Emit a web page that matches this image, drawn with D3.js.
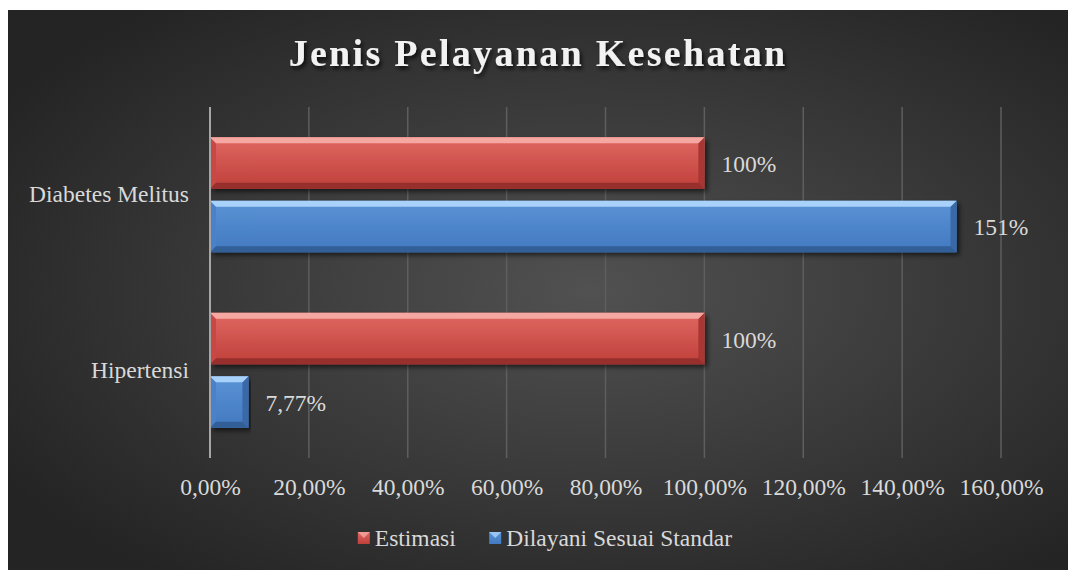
<!DOCTYPE html>
<html>
<head>
<meta charset="utf-8">
<script src="https://d3js.org/d3.v7.min.js"></script>
<style>
  body { margin: 0; background: #fff; }
  svg { display: block; font-family: "Liberation Serif", "Times New Roman", serif; }
</style>
</head>
<body>
<div id="chart"></div>
<script>
// data
const categories = ["Diabetes Melitus", "Hipertensi"];
const seriesNames = ["Estimasi", "Dilayani Sesuai Standar"];
const estimasi = [100, 100];
const dilayani = [151, 7.77];
const xTicks = [0, 20, 40, 60, 80, 100, 120, 140, 160];

const locale = d3.formatLocale({decimal: ",", thousands: ".", grouping: [3], currency: ["", ""]});
const tickFmt = v => locale.format(".2f")(v) + "%";
const labelFmt = v => (Number.isInteger(v) ? v : locale.format(".2f")(v)) + "%";

const W = 1068, H = 570;
const margin = {top: 107, right: 67, bottom: 112, left: 210};

const svg = d3.select("#chart").append("svg")
    .attr("width", W)
    .attr("height", H);

const defs = svg.append("defs");

// background
const bg = defs.append("radialGradient").attr("id", "bg")
    .attr("cx", "55%").attr("cy", "50%").attr("r", "65%");
bg.append("stop").attr("offset", "0%").attr("stop-color", "#515151");
bg.append("stop").attr("offset", "100%").attr("stop-color", "#242424");

svg.append("rect")
    .attr("x", 8).attr("y", 10)
    .attr("width", W - 8).attr("height", H - 10)
    .attr("fill", "url(#bg)");

// shadows
const tshadow = defs.append("filter").attr("id", "tshadow")
    .attr("x", "-10%").attr("y", "-30%").attr("width", "120%").attr("height", "160%");
tshadow.append("feDropShadow")
    .attr("dx", 2).attr("dy", 3).attr("stdDeviation", 2)
    .attr("flood-color", "#000").attr("flood-opacity", 0.75);

const bshadow = defs.append("filter").attr("id", "bshadow")
    .attr("x", "-5%").attr("y", "-20%").attr("width", "110%").attr("height", "150%");
bshadow.append("feDropShadow")
    .attr("dx", 3).attr("dy", 3).attr("stdDeviation", 2.5)
    .attr("flood-color", "#000").attr("flood-opacity", 0.6);

// bar palettes
const palette = {
  "Estimasi": {top: "#e06862", bottom: "#bf3f3a", hi: "#f5a7a2", lo: "#97302d", end: "#a83632", left: "#c94843"},
  "Dilayani Sesuai Standar": {top: "#5b93d6", bottom: "#4279c0", hi: "#a9d2fa", lo: "#335f99", end: "#3a69a8", left: "#4a81c8"}
};
seriesNames.forEach((s, i) => {
  const g = defs.append("linearGradient").attr("id", "body" + i)
      .attr("x1", 0).attr("y1", 0).attr("x2", 0).attr("y2", 1);
  g.append("stop").attr("offset", "0%").attr("stop-color", palette[s].top);
  g.append("stop").attr("offset", "100%").attr("stop-color", palette[s].bottom);
});

// title
svg.append("text")
    .attr("x", 538).attr("y", 66)
    .attr("text-anchor", "middle")
    .attr("font-size", 38)
    .attr("font-weight", "bold")
    .attr("letter-spacing", 2.3)
    .attr("fill", "#f2f2f2")
    .attr("filter", "url(#tshadow)")
    .text("Jenis Pelayanan Kesehatan");

// scales
const x = d3.scaleLinear()
    .domain([0, 160])
    .range([margin.left, W - margin.right]);

const y = d3.scaleBand()
    .domain(categories)
    .range([margin.top, H - margin.bottom])
    .paddingInner(0.345)
    .paddingOuter(0.172);

const ySub = d3.scaleBand()
    .domain(seriesNames)
    .range([0, y.bandwidth()])
    .paddingInner(0.19);

// gridlines
svg.append("g")
    .selectAll("line")
    .data(xTicks.slice(1))
    .join("line")
    .attr("x1", d => x(d)).attr("x2", d => x(d))
    .attr("y1", margin.top).attr("y2", H - margin.bottom)
    .attr("stroke", "#5e5e5e")
    .attr("stroke-width", 1.5);

// x axis labels
const xAxis = d3.axisBottom(x)
    .tickValues(xTicks)
    .tickFormat(tickFmt)
    .tickSize(0)
    .tickPadding(0);

const xAxisG = svg.append("g")
    .attr("transform", `translate(0,${H - margin.bottom})`)
    .call(xAxis);
xAxisG.select(".domain").remove();
xAxisG.selectAll("text")
    .attr("y", 37)
    .attr("dy", 0)
    .attr("font-size", 23.5)
    .attr("font-family", "Liberation Serif, Times New Roman, serif")
    .attr("fill", "#d9d9d9");

// y axis labels
const yAxis = d3.axisLeft(y).tickSize(0).tickPadding(21);
const yAxisG = svg.append("g")
    .attr("transform", `translate(${margin.left},0)`)
    .call(yAxis);
yAxisG.select(".domain").remove();
yAxisG.selectAll("text")
    .attr("dy", "0.32em")
    .attr("font-size", 23.5)
    .attr("font-family", "Liberation Serif, Times New Roman, serif")
    .attr("fill", "#d9d9d9");

// bars
const rows = [];
categories.forEach((c, i) => {
  rows.push({cat: c, series: seriesNames[0], si: 0, value: estimasi[i]});
  rows.push({cat: c, series: seriesNames[1], si: 1, value: dilayani[i]});
});

const b = 6;
const barG = svg.append("g").selectAll("g")
    .data(rows)
    .join("g")
    .attr("transform", d => `translate(0,${y(d.cat) + ySub(d.series)})`);

barG.each(function(d) {
  const g = d3.select(this);
  const x0 = x(0), x1 = x(d.value), h = ySub.bandwidth();
  const p = palette[d.series];
  g.append("rect")
      .attr("x", x0).attr("y", 0)
      .attr("width", x1 - x0).attr("height", h)
      .attr("fill", `url(#body${d.si})`)
      .attr("filter", "url(#bshadow)");
  const poly = pts => pts.map(q => q.join(",")).join(" ");
  g.append("polygon").attr("fill", p.left)
      .attr("points", poly([[x0, 0], [x0 + b, b], [x0 + b, h - b], [x0, h]]));
  g.append("polygon").attr("fill", p.end)
      .attr("points", poly([[x1, 0], [x1, h], [x1 - b, h - b], [x1 - b, b]]));
  g.append("polygon").attr("fill", p.hi)
      .attr("points", poly([[x0, 0], [x1, 0], [x1 - b, b], [x0 + b, b]]));
  g.append("polygon").attr("fill", p.lo)
      .attr("points", poly([[x0, h], [x1, h], [x1 - b, h - b], [x0 + b, h - b]]));
});

barG.append("text")
    .attr("x", d => x(d.value) + 17)
    .attr("y", d => ySub.bandwidth() / 2 + 9)
    .attr("font-size", 23.5)
    .attr("fill", "#d9d9d9")
    .text(d => labelFmt(d.value));

// vertical axis line
svg.append("line")
    .attr("x1", x(0)).attr("x2", x(0))
    .attr("y1", margin.top).attr("y2", H - margin.bottom)
    .attr("stroke", "#a6a6a6")
    .attr("stroke-width", 2);

// legend
const legend = svg.append("g");
const items = legend.selectAll("g")
    .data(seriesNames)
    .join("g");
items.append("rect")
    .attr("x", 0).attr("y", -6)
    .attr("width", 12).attr("height", 12)
    .attr("fill", (d, i) => `url(#body${i})`);
items.append("polygon")
    .attr("points", "0,-6 12,-6 6,0")
    .attr("fill", d => palette[d].hi)
    .attr("opacity", 0.8);
items.append("text")
    .attr("x", 17).attr("y", 8)
    .attr("font-size", 23.5)
    .attr("fill", "#d9d9d9")
    .text(d => d);

let off = 0;
items.each(function() {
  const w = this.getBBox().width;
  d3.select(this).attr("transform", `translate(${off},0)`);
  off += w + 33;
});
const total = off - 33;
legend.attr("transform", `translate(${545 - total / 2},538)`);
</script>
</body>
</html>
